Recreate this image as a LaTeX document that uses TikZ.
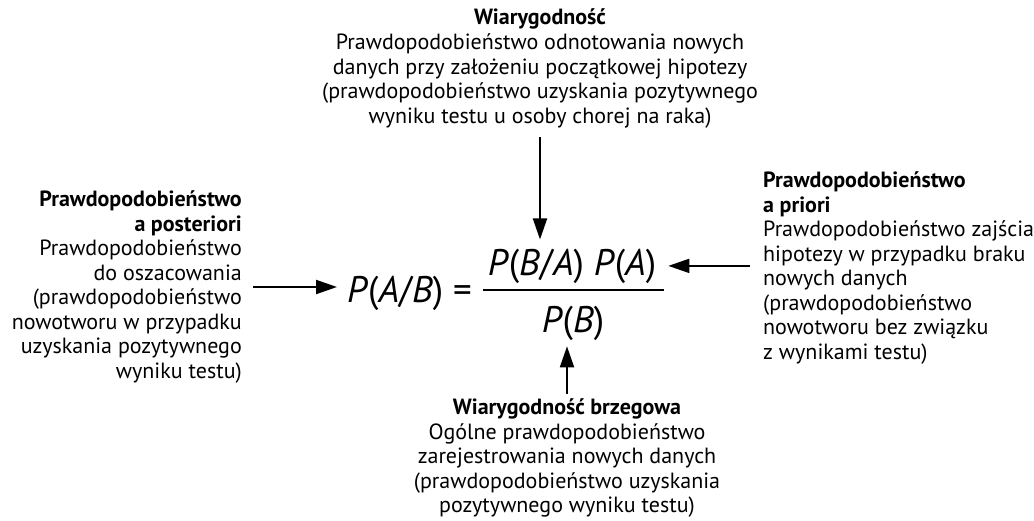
\documentclass[tikz,border=0pt]{standalone}
\usepackage{fontspec}
\setmainfont{PT Sans}
\usetikzlibrary{arrows.meta}

\tikzset{
  opis/.style={inner sep=0pt, font=\fontsize{22}{24.5}\selectfont},
  wzor/.style={inner sep=0pt, font=\fontsize{37}{40}\selectfont},
  strz/.style={line width=2pt, -{Triangle[length=21pt,width=14pt]}},
}
\newcommand{\zm}[1]{\textit{#1}}

\begin{document}
\begin{tikzpicture}[x=1pt,y=-1pt]
  \useasboundingbox (0,0) rectangle (1034,520);
  %% Wzor Bayesa
  \node[wzor,anchor=base west] (lhs) at (347,302) {\zm{P}(\zm{A}/\zm{B}) =};
  \node[wzor,anchor=base] (num) at (572,275) {\zm{P}(\zm{B}/\zm{A}) \zm{P}(\zm{A})};
  \node[wzor,anchor=base] (den) at (573,332) {\zm{P}(\zm{B})};
  \draw[line width=1.8pt] (483,290) -- (664,290);
  %% Opisy
  \node[opis,anchor=north,align=center] (lik) at (540,8)
    {\textbf{Wiarygodność}\\[1pt]
     Prawdopodobieństwo odnotowania nowych\\
     danych przy założeniu początkowej hipotezy\\
     (prawdopodobieństwo uzyskania pozytywnego\\
     wyniku testu u osoby chorej na raka)};
  \node[opis,anchor=east,align=right] (post) at (242,287)
    {\textbf{Prawdopodobieństwo}\\
     \textbf{a posteriori}\\
     Prawdopodobieństwo\\
     do oszacowania\\
     (prawdopodobieństwo\\
     nowotworu w przypadku\\
     uzyskania pozytywnego\\
     wyniku testu)};
  \node[opis,anchor=west,align=left] (prior) at (763,268)
    {\textbf{Prawdopodobieństwo}\\
     \textbf{a priori}\\
     Prawdopodobieństwo zajścia\\
     hipotezy w przypadku braku\\
     nowych danych\\
     (prawdopodobieństwo\\
     nowotworu bez związku\\
     z wynikami testu)};
  \node[opis,anchor=south,align=center] (marg) at (567,518)
    {\textbf{Wiarygodność brzegowa}\\
     Ogólne prawdopodobieństwo\\
     zarejestrowania nowych danych\\
     (prawdopodobieństwo uzyskania\\
     pozytywnego wyniku testu)};
  %% Strzalki
  \draw[strz,shorten <=11pt,shorten >=10pt] (post.east) -- (post.east -| lhs.west);
  \draw[strz,shorten <=13pt,shorten >=12pt] (prior.west |- num.east) -- (num.east);
  \draw[strz,shorten <=9pt,shorten >=9pt] (lik.south) -- (lik.south |- num.north);
  \draw[strz,shorten <=5pt,shorten >=6pt] (marg.north) -- (marg.north |- den.south);
\end{tikzpicture}
\end{document}
